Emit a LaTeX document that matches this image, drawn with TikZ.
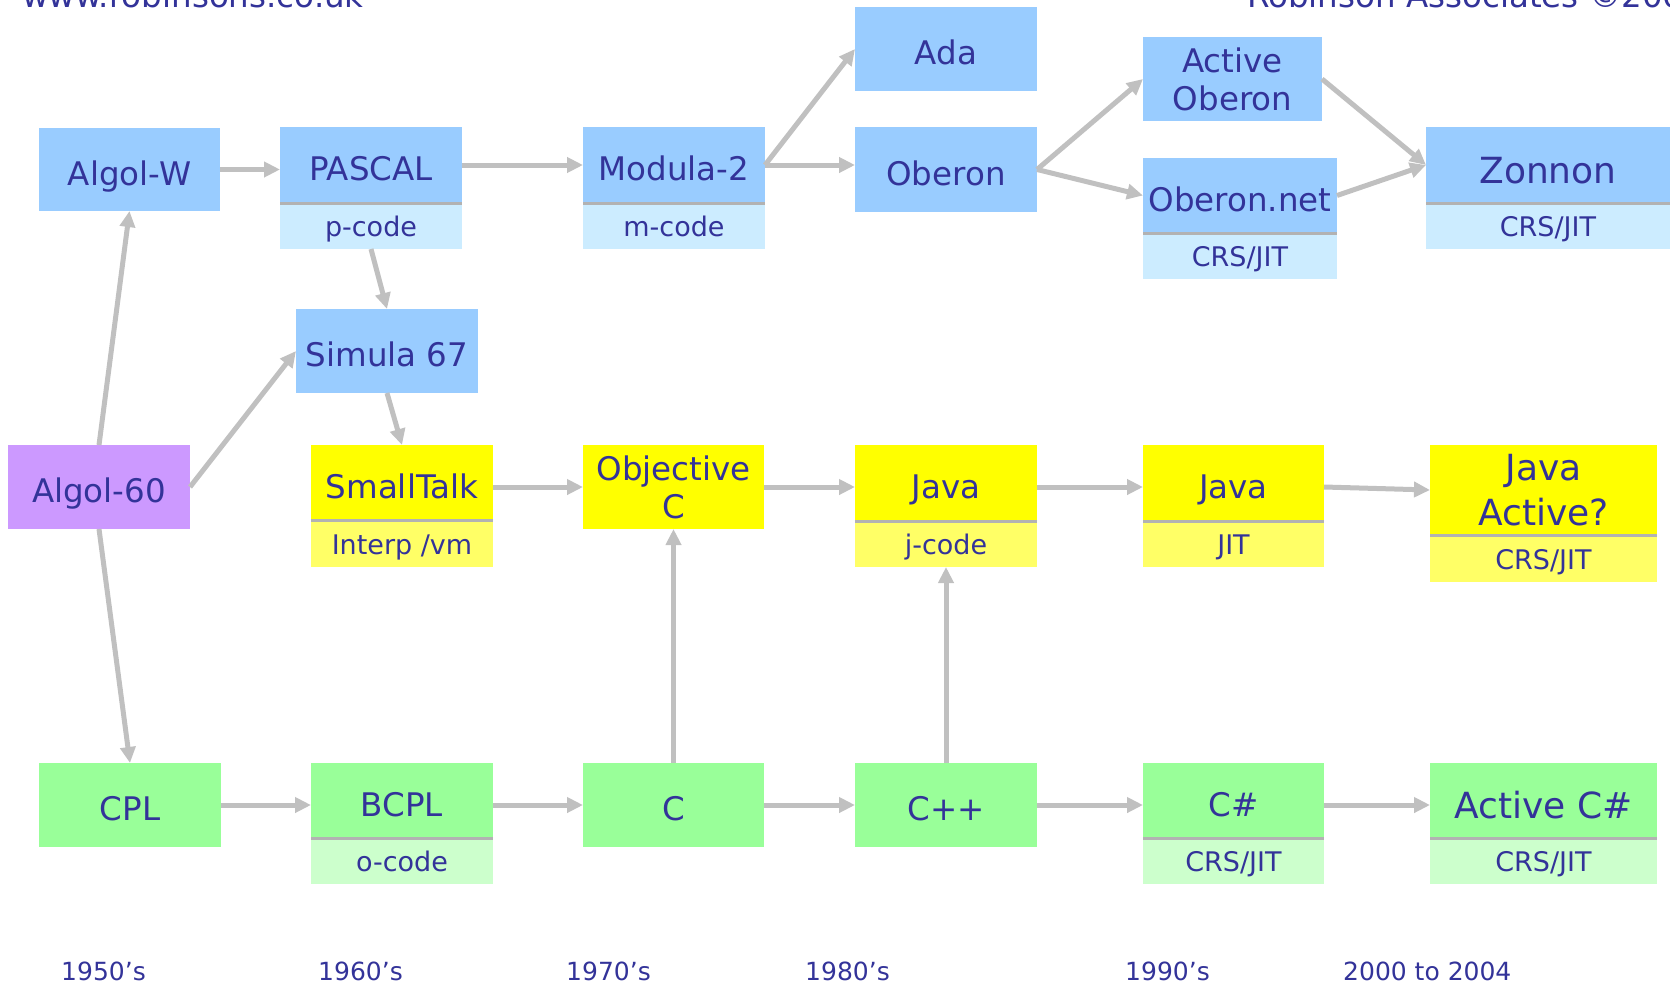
\documentclass[tikz,border=0pt]{standalone}
\usepackage{fontspec}
\setmainfont{DejaVu Sans}
\usetikzlibrary{arrows.meta}
\definecolor{txt}{HTML}{333399}
\definecolor{bluebox}{HTML}{99CCFF}
\definecolor{bluesub}{HTML}{CCECFF}
\definecolor{yelbox}{HTML}{FFFF00}
\definecolor{yelsub}{HTML}{FFFF66}
\definecolor{grnbox}{HTML}{99FF99}
\definecolor{grnsub}{HTML}{CCFFCC}
\definecolor{purbox}{HTML}{CC99FF}
\definecolor{arrgray}{HTML}{C0C0C0}
\definecolor{divgray}{HTML}{B2B2B2}
\tikzset{
  base/.style={inner sep=0pt, outer sep=0pt, text=txt, align=center},
  one/.style={base, font=\fontsize{32.5}{38}\selectfont, text height=31pt, text depth=0pt},
  big/.style={base, font=\fontsize{36}{45}\selectfont, text height=36pt, text depth=0pt},
  multi/.style={base, font=\fontsize{32.5}{38}\selectfont},
  bigmulti/.style={base, font=\fontsize{36}{45}\selectfont},
  sub/.style={base, font=\fontsize{27}{32}\selectfont, text height=21pt, text depth=0pt, anchor=north, minimum height=46pt},
  bl/.style={fill=bluebox}, bls/.style={sub, fill=bluesub},
  yl/.style={fill=yelbox}, yls/.style={sub, fill=yelsub},
  gr/.style={fill=grnbox}, grs/.style={sub, fill=grnsub},
  pu/.style={fill=purbox},
  arr/.style={draw=arrgray, line width=5pt, -{Triangle[length=16pt,width=15pt]}},
  divider/.style={draw=divgray, line width=3pt},
  hdr/.style={text=txt, inner sep=0pt, font=\fontsize{32.5}{38}\selectfont, anchor=base west},
  yr/.style={text=txt, inner sep=0pt, font=\fontsize{25}{30}\selectfont, anchor=base west},
}
\begin{document}
\begin{tikzpicture}[x=1pt,y=-1pt]
\useasboundingbox (0,0) rectangle (1670,983);
\clip (0,0) rectangle (1670,983);

% header
\node[hdr] (url) at (22,7) {www.robinsons.co.uk};
\node[hdr] (copy) at (1247,7) {Robinson Associates ©2004};

% top row
\node[one,bl,minimum width=181pt,minimum height=83pt] (algolw) at (129.5,169.5) {Algol-W};
\node[one,bl,minimum width=182pt,minimum height=76pt] (pascal) at (371,165) {PASCAL};
\node[bls,minimum width=182pt] (pascals) at (pascal.south) {p-code};
\node[one,bl,minimum width=182pt,minimum height=76pt] (modula) at (674,165) {Modula-2};
\node[bls,minimum width=182pt] (modulas) at (modula.south) {m-code};
\node[one,bl,minimum width=182pt,minimum height=84pt] (ada) at (946,49) {Ada};
\node[one,bl,minimum width=182pt,minimum height=85pt] (oberon) at (946,169.5) {Oberon};
\node[multi,bl,minimum width=179pt,minimum height=84pt] (actobe) at (1232.5,79) {Active\\Oberon};
\node[one,bl,minimum width=194pt,minimum height=75pt] (obnet) at (1240,195.5) {Oberon.net};
\node[bls,minimum width=194pt] (obnets) at (obnet.south) {CRS/JIT};
\node[big,bl,minimum width=244pt,minimum height=76pt] (zonnon) at (1548,165) {Zonnon};
\node[bls,minimum width=244pt] (zonnons) at (zonnon.south) {CRS/JIT};

% middle
\node[one,bl,minimum width=182pt,minimum height=84pt] (simula) at (387,351) {Simula 67};
\node[one,pu,minimum width=182pt,minimum height=84pt] (algol60) at (99,487) {Algol-60};
\node[one,yl,minimum width=182pt,minimum height=75pt] (smalltalk) at (402,482.5) {SmallTalk};
\node[yls,minimum width=182pt,minimum height=47pt] (smalltalks) at (smalltalk.south) {Interp /vm};
\node[multi,yl,minimum width=181pt,minimum height=84pt] (objc) at (673.5,487) {Objective\\C};
\node[one,yl,minimum width=182pt,minimum height=76pt] (java) at (946,483) {Java};
\node[yls,minimum width=182pt] (javas) at (java.south) {j-code};
\node[one,yl,minimum width=181pt,minimum height=76pt] (jit) at (1233.5,483) {Java};
\node[yls,minimum width=181pt] (jits) at (jit.south) {JIT};
\node[bigmulti,yl,minimum width=227pt,minimum height=90pt] (javaact) at (1543.5,490) {Java\\Active?};
\node[yls,minimum width=227pt,minimum height=47pt] (javaacts) at (javaact.south) {CRS/JIT};

% bottom row
\node[one,gr,minimum width=182pt,minimum height=84pt] (cpl) at (130,805) {CPL};
\node[one,gr,minimum width=182pt,minimum height=75pt] (bcpl) at (402,800.5) {BCPL};
\node[grs,minimum width=182pt] (bcpls) at (bcpl.south) {o-code};
\node[one,gr,minimum width=181pt,minimum height=84pt] (c) at (673.5,805) {C};
\node[one,gr,minimum width=182pt,minimum height=84pt] (cpp) at (946,805) {C++};
\node[one,gr,minimum width=181pt,minimum height=75pt] (cs) at (1233.5,800.5) {C\#};
\node[grs,minimum width=181pt] (css) at (cs.south) {CRS/JIT};
\node[big,gr,minimum width=227pt,minimum height=75pt] (activecs) at (1543.5,800.5) {Active C\#};
\node[grs,minimum width=227pt] (activecss) at (activecs.south) {CRS/JIT};

% dividers
\foreach \n in {pascal,modula,obnet,zonnon,smalltalk,java,jit,javaact,bcpl,cs,activecs}
  \draw[divider] (\n.south west) -- (\n.south east);

% connectors
\draw[arr] (algolw.east) -- (algolw.east -| pascal.west);
\draw[arr] (pascal.east) -- (modula.west);
\draw[arr] (modula.east) -- (ada.west);
\draw[arr] (modula.east) -- (modula.east -| oberon.west);
\draw[arr] (oberon.east) -- (actobe.west);
\draw[arr] (oberon.east) -- (obnet.west);
\draw[arr] (actobe.east) -- (zonnon.west);
\draw[arr] (obnet.east) -- (zonnon.west);
\draw[arr] (pascals.south) -- (simula.north);
\draw[arr] (algol60.north) -- (algolw.south);
\draw[arr] (algol60.east) -- (simula.west);
\draw[arr] (simula.south) -- (smalltalk.north);
\draw[arr] (algol60.south) -- (cpl.north);
\draw[arr] (objc.west -| smalltalk.east) -- (objc.west);
\draw[arr] (objc.east) -- (objc.east -| java.west);
\draw[arr] (objc.east -| java.east) -- (objc.east -| jit.west);
\draw[arr] (objc.east -| jit.east) -- (javaact.west);
\draw[arr] (c.north) -- (objc.south);
\draw[arr] (cpp.north) -- (javas.south);
\draw[arr] (cpl.east) -- (cpl.east -| bcpl.west);
\draw[arr] (c.west -| bcpl.east) -- (c.west);
\draw[arr] (c.east) -- (cpp.west);
\draw[arr] (cpp.east) -- (cpp.east -| cs.west);
\draw[arr] (cpp.east -| cs.east) -- (cpp.east -| activecs.west);

% years
\node[yr] (y1950) at (61,980) {1950’s};
\node[yr] (y1960) at (318,980) {1960’s};
\node[yr] (y1970) at (566,980) {1970’s};
\node[yr] (y1980) at (805,980) {1980’s};
\node[yr] (y1990) at (1125,980) {1990’s};
\node[yr] (y2000) at (1343,980) {2000 to 2004};
\end{tikzpicture}
\end{document}
